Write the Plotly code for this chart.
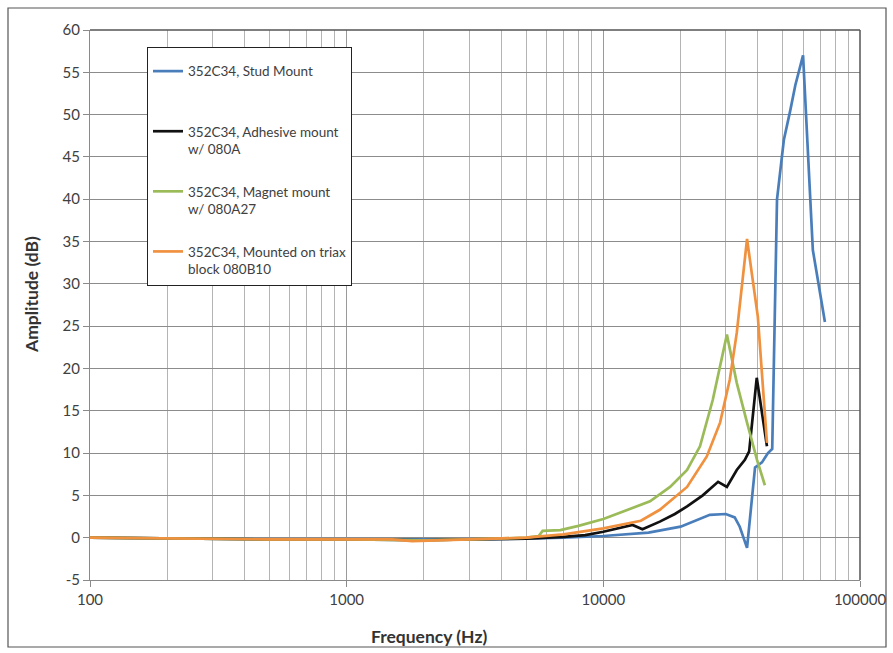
import plotly.graph_objects as go

# ---------------- data ----------------
stud_freq = [100, 200, 500, 1000, 2000, 3000, 5000, 7000, 10000, 12500, 15000,
             20000, 23000, 26000, 30000, 32500, 34000, 36300, 39000, 41500,
             43800, 45500, 47500, 50500, 53500, 56000, 60000, 65500, 73000]
stud_amp = [0.0, -0.1, -0.2, -0.2, -0.2, -0.2, -0.1, 0.0, 0.2, 0.4, 0.6,
            1.3, 2.0, 2.7, 2.8, 2.4, 1.3, -1.2, 8.3, 8.9,
            10.0, 10.5, 40.0, 47.0, 50.5, 53.5, 57.0, 34.0, 25.5]

adh_freq = [100, 200, 500, 1000, 2000, 3000, 5000, 7000, 8500, 10000, 11500,
            13000, 14200, 16600, 19000, 21200, 24400, 28000, 30300, 33100,
            35600, 37000, 39600, 43400]
adh_amp = [0.0, -0.1, -0.2, -0.2, -0.3, -0.2, -0.1, 0.1, 0.3, 0.7, 1.1,
           1.5, 1.0, 1.9, 2.8, 3.7, 5.0, 6.6, 6.0, 8.0,
           9.2, 10.2, 18.9, 10.8]

mag_freq = [100, 200, 500, 1000, 2000, 3000, 5000, 5600, 5800, 6800, 8000,
            10000, 12700, 15200, 18200, 21200, 23800, 26700, 30300, 33100,
            36300, 39700, 42600]
mag_amp = [0.0, -0.1, -0.2, -0.2, -0.3, -0.2, 0.0, 0.2, 0.8, 0.9, 1.4,
           2.2, 3.4, 4.3, 6.0, 8.0, 10.8, 16.3, 24.0, 18.3,
           13.6, 9.2, 6.2]

triax_freq = [100, 200, 500, 1000, 1500, 1800, 2200, 3000, 5000, 7000, 10000,
              13000, 14000, 16600, 21200, 25300, 28500, 31100, 33100, 36300,
              40000, 43400]
triax_amp = [0.0, -0.1, -0.2, -0.2, -0.2, -0.4, -0.3, -0.2, 0.0, 0.4, 1.1,
             1.8, 2.0, 3.3, 6.0, 9.6, 13.6, 18.7, 24.2, 35.3,
             26.1, 11.2]

series_names = ["352C34, Stud Mount<br> ",
                "352C34, Adhesive mount<br>w/ 080A",
                "352C34, Magnet mount<br>w/ 080A27",
                "352C34, Mounted on triax<br>block 080B10"]
series_colors = ["#4A7EBB", "#111111", "#9BBB59", "#F0913F"]

y_ticks = list(range(-5, 61, 5))
y_tick_labels = [str(v) for v in y_ticks]
x_ticks = [100, 1000, 10000, 100000]
x_tick_labels = ["100", "1000", "10000", "100000"]

FONT = "Lato, 'Liberation Sans', Arial, sans-serif"

fig = go.Figure()
all_data = [(stud_freq, stud_amp), (adh_freq, adh_amp),
            (mag_freq, mag_amp), (triax_freq, triax_amp)]
for i, ((fx, fy), name, col) in enumerate(zip(all_data, series_names, series_colors)):
    fig.add_trace(go.Scatter(
        x=fx, y=fy, mode="lines", name=name,
        line=dict(color=col, width=2.7),
        legendgroup=f"g{i}",
    ))

fig.update_layout(
    width=893, height=653,
    margin=dict(l=90, r=33, t=30, b=73, autoexpand=False),
    paper_bgcolor="white", plot_bgcolor="white",
    font=dict(family=FONT, size=12, color="#404040"),
    showlegend=True,
    legend=dict(
        x=0.074, y=0.969, xanchor="left", yanchor="top",
        bgcolor="white", bordercolor="#222222", borderwidth=1,
        font=dict(family=FONT, size=13.5, color="#404040"),
        traceorder="grouped", tracegroupgap=22, valign="top",
        title=dict(text=" ", font=dict(size=6)),
    ),
    xaxis=dict(
        type="log", range=[2, 5], automargin=False,
        tickvals=x_ticks, ticktext=x_tick_labels,
        showgrid=True, gridcolor="#9a9a9a", gridwidth=1,
        minor=dict(dtick="D1", showgrid=True, gridcolor="#b4b4b4", gridwidth=1,
                   ticks=""),
        ticks="outside", ticklen=6, tickcolor="#8a8a8a",
        showline=True, linecolor="#8a8a8a", linewidth=1, mirror=False,
        tickfont=dict(size=15, color="#404040"),
        zeroline=False,
    ),
    yaxis=dict(
        range=[-5, 60], tickvals=y_ticks, ticktext=y_tick_labels, automargin=False,
        showgrid=True, gridcolor="#8c8c8c", gridwidth=1,
        ticks="outside", ticklen=6, tickcolor="#8a8a8a",
        showline=True, linecolor="#8a8a8a", linewidth=1,
        tickfont=dict(size=15, color="#404040"),
        zeroline=False,
    ),
    annotations=[
        dict(text="<b>Frequency (Hz)</b>", xref="paper", yref="paper",
             x=(429 - 90) / 770, y=(580 - 636) / 550, xanchor="center", yanchor="middle",
             showarrow=False, font=dict(family=FONT, size=17.5, color="#333333")),
        dict(text="<b>Amplitude (dB)</b>", xref="paper", yref="paper",
             x=(31 - 90) / 770, y=(580 - 295) / 550, xanchor="center", yanchor="middle",
             textangle=-90, showarrow=False,
             font=dict(family=FONT, size=17.5, color="#333333")),
    ],
    shapes=[
        # chart-area frame
        dict(type="rect", xref="paper", yref="paper",
             x0=(8 - 90) / 770, x1=(886 - 90) / 770,
             y0=(580 - 647) / 550, y1=(580 - 8) / 550,
             line=dict(color="#555555", width=1.2), fillcolor="rgba(0,0,0,0)",
             layer="below"),
        # top and right edges of the plot area
        dict(type="line", xref="paper", yref="paper", x0=0, x1=1, y0=1, y1=1,
             line=dict(color="#555555", width=1.5)),
        dict(type="line", xref="paper", yref="paper", x0=1, x1=1, y0=0, y1=1,
             line=dict(color="#555555", width=1.5)),
    ],
)

fig.write_html("out.html",
               config={"displayModeBar": False},
               post_script="document.body.style.margin='0';document.body.style.overflow='hidden';")
